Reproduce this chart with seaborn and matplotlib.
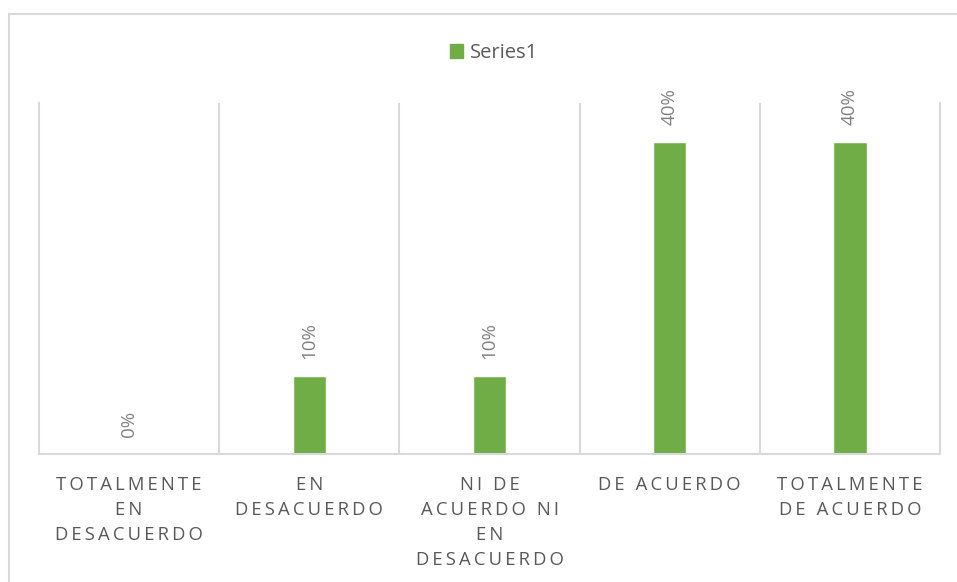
import numpy as np
import pandas as pd
import matplotlib
matplotlib.use("Agg")
import matplotlib.pyplot as plt
import seaborn as sns
from matplotlib.patches import Patch, Rectangle

# data
categories = ["Totalmente en desacuerdo", "En desacuerdo", "Ni de acuerdo ni en desacuerdo",
              "De acuerdo", "Totalmente de acuerdo"]
values = [0.0, 0.10, 0.10, 0.40, 0.40]
tick_labels = ["TOTALMENTE\nEN\nDESACUERDO", "EN\nDESACUERDO", "NI DE\nACUERDO NI\nEN\nDESACUERDO",
               "DE ACUERDO", "TOTALMENTE\nDE ACUERDO"]
value_labels = ["0%", "10%", "10%", "40%", "40%"]
series_name = "Series1"

df = pd.DataFrame({"categoria": categories, "valor": values})

sns.set_theme(style="white")
plt.rcParams["font.family"] = ["Open Sans", "DejaVu Sans"]

green = "#70AD47"
grid_c = "#D9D9D9"
txt_c = "#595959"

def spaced(s):
    # excel-like letter spacing
    return "\n".join("\u2009".join(list(line)) for line in s.split("\n"))

fig = plt.figure(figsize=(9.57, 5.82), dpi=100)
ax = fig.add_axes([39 / 957, 1 - 454 / 582, (940 - 39) / 957, (454 - 103) / 582])

sns.barplot(data=df, x="categoria", y="valor", color=green, width=0.185,
            saturation=1, ax=ax)

ax.set_ylim(0, 0.45)
ax.set_xlim(-0.5, 4.5)
ax.set_yticks([])
ax.set_xlabel("")
ax.set_ylabel("")

ax.set_xticks(range(len(categories)))
ax.set_xticklabels([spaced(t) for t in tick_labels], fontsize=13.3, color=txt_c,
                   linespacing=1.52, va="top")
ax.tick_params(axis="x", length=0, pad=15.5)

# category separators
ax.set_xticks(np.arange(0.5, len(categories) - 0.5, 1), minor=True)
ax.tick_params(axis="x", which="minor", length=0)
ax.grid(axis="x", which="minor", color=grid_c, linewidth=1.5)
ax.grid(axis="x", which="major", visible=False)
ax.grid(axis="y", visible=False)

for side in ["left", "right", "bottom"]:
    ax.spines[side].set_color(grid_c)
    ax.spines[side].set_linewidth(1.5)
ax.spines["top"].set_visible(False)

ax.bar_label(ax.containers[0], labels=value_labels, rotation=90, padding=12,
             fontsize=13.5, color="#808080")

fig.legend(handles=[Patch(color=green, label=series_name)], loc="center",
           bbox_to_anchor=(494 / 957, 1 - 53 / 582), frameon=False,
           fontsize=14.5, handlelength=0.65, handleheight=0.65,
           handletextpad=0.3, labelcolor=txt_c)

# chart border (runs off the right and bottom edges)
fig.patches.append(Rectangle((9 / 957, -0.1), 1.2, 1 - 14 / 582 + 0.1,
                             transform=fig.transFigure, fill=False,
                             edgecolor=grid_c, linewidth=1.5))

fig.savefig("out.png", dpi=100, facecolor="white")
